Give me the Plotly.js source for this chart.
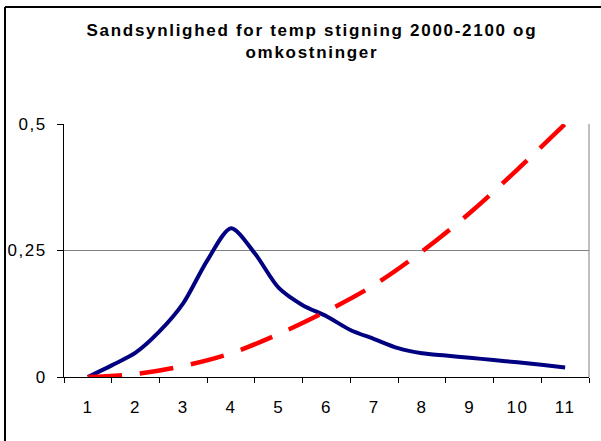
<!DOCTYPE html>
<html>
<head>
<meta charset="utf-8">
<script src="https://cdn.plot.ly/plotly-3.0.1.min.js"></script>
<style>
  html, body { margin: 0; padding: 0; background: #fff; }
  #chart { width: 601px; height: 441px; }
  .gtitle { letter-spacing: 1.7px; }
  .xtick text, .ytick text { letter-spacing: 1.5px; }
</style>
</head>
<body>
<div id="chart"></div>
<script>
// Probability curve (read at half-step positions)
const probX = [1, 1.5, 2, 2.5, 3, 3.5, 4, 4.5, 5, 5.5, 6, 6.5, 7, 7.5, 8, 8.5, 9, 9.5, 10, 10.5, 11];
const probability = [0, 0.023, 0.048, 0.090, 0.146, 0.230, 0.294, 0.244, 0.176, 0.142, 0.120,
                     0.093, 0.075, 0.057, 0.047, 0.0425, 0.038, 0.0336, 0.029, 0.024, 0.019];
// Cost curve (read at each category)
const costX = [1, 2, 3, 4, 5, 6, 7, 8, 9, 10, 11];
const cost = [0, 0.006, 0.022, 0.047, 0.085, 0.130, 0.182, 0.248, 0.324, 0.410, 0.500];
// Tick labels
const xTickVals = [1, 2, 3, 4, 5, 6, 7, 8, 9, 10, 11];
const xTickText = ['1', '2', '3', '4', '5', '6', '7', '8', '9', '10', '11'];
const yTickVals = [0, 0.25, 0.5];
const yTickText = ['0', '0,25', '0,5'];
const titleText = 'Sandsynlighed for temp stigning 2000-2100 og<br>omkostninger';

const traces = [
  {
    x: probX, y: probability, type: 'scatter', mode: 'lines',
    line: { color: '#000080', width: 4, shape: 'spline', smoothing: 0.8 },
    hoverinfo: 'skip', showlegend: false
  },
  {
    x: costX, y: cost, type: 'scatter', mode: 'lines',
    line: { color: '#FF0000', width: 4.5, shape: 'spline', smoothing: 1, dash: '34px,18px' },
    hoverinfo: 'skip', showlegend: false
  }
];

const fontFam = '"Liberation Sans", Arial, sans-serif';
const W = 601, H = 441, L = 64, R = 12, T = 124, B = 64;
const pw = W - L - R, ph = H - T - B;
// outer chart frame edges (left at ~5px, top at ~7px) in paper units
const frameX = (5 - L) / pw;
const frameY = (H - B - 7) / ph;
const frameBottom = -B / ph;
const frameRight = (W - L) / pw;

const layout = {
  width: W, height: H,
  paper_bgcolor: '#fff', plot_bgcolor: '#fff',
  margin: { l: L, r: R, t: T, b: B, pad: 0 },
  font: { family: fontFam, size: 17, color: '#000' },
  title: {
    text: titleText,
    font: { family: fontFam, size: 17, color: '#000', weight: 'bold' },
    xref: 'container', yref: 'container',
    x: 0.519, xanchor: 'center',
    y: 1 - 36 / 441, yanchor: 'top'
  },
  xaxis: {
    range: [0.5, 11.5], fixedrange: true,
    tickmode: 'array', tickvals: xTickVals, ticktext: xTickText,
    ticks: '', ticklen: 5, ticklabelstandoff: 15,
    showgrid: false, zeroline: false,
    showline: true, linecolor: '#000', linewidth: 1,
    tickfont: { family: fontFam, size: 17, color: '#000' },
    minor: { tick0: 0.5, dtick: 1, ticks: 'outside', ticklen: 5, tickcolor: '#000', tickwidth: 1, showgrid: false }
  },
  yaxis: {
    range: [0, 0.5], fixedrange: true,
    tickmode: 'array', tickvals: yTickVals, ticktext: yTickText,
    ticks: 'outside', ticklen: 6, tickcolor: '#000', tickwidth: 1, ticklabelstandoff: 7,
    showgrid: true, gridcolor: '#808080', gridwidth: 1,
    zeroline: false,
    showline: true, linecolor: '#000', linewidth: 1,
    tickfont: { family: fontFam, size: 17, color: '#000' }
  },
  shapes: [
    { type: 'line', xref: 'paper', yref: 'paper', x0: 1, x1: 1, y0: 0, y1: 1,
      line: { color: '#808080', width: 1 } },
    { type: 'line', xref: 'paper', yref: 'paper', x0: frameX, x1: frameX, y0: frameY, y1: frameBottom,
      line: { color: '#000', width: 2 } },
    { type: 'line', xref: 'paper', yref: 'paper', x0: frameX, x1: frameRight, y0: frameY, y1: frameY,
      line: { color: '#000', width: 2 } }
  ],
  showlegend: false
};

Plotly.newPlot('chart', traces, layout, { displayModeBar: false, staticPlot: true });
</script>
</body>
</html>
